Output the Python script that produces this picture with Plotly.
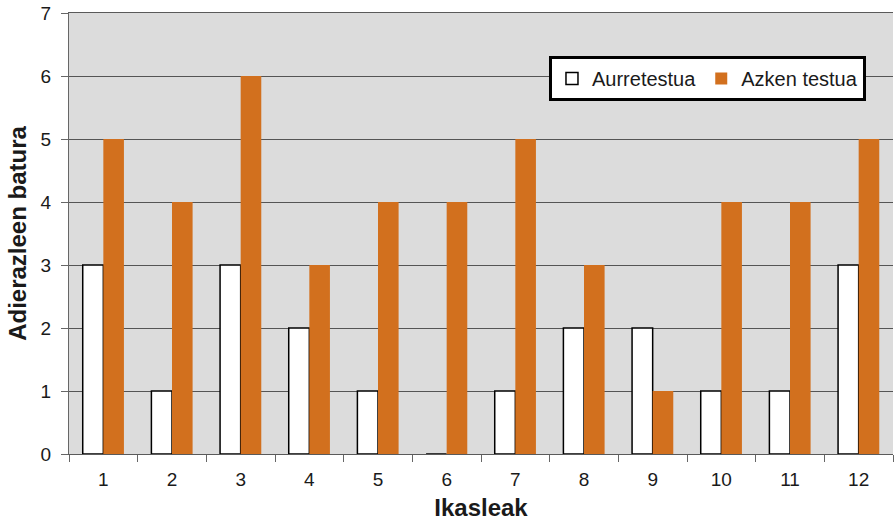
import plotly.graph_objects as go

categories = ["1", "2", "3", "4", "5", "6", "7", "8", "9", "10", "11", "12"]
aurretestua = [3, 1, 3, 2, 1, 0, 1, 2, 2, 1, 1, 3]
azken_testua = [5, 4, 6, 3, 4, 4, 5, 3, 1, 4, 4, 5]
y_ticks = [0, 1, 2, 3, 4, 5, 6, 7]

FONT = "Liberation Sans, Arial, sans-serif"
TXT = "#1a1a1a"

fig = go.Figure()
fig.add_trace(go.Bar(
    x=categories, y=aurretestua, name="Aurretestua",
    marker=dict(color="white", line=dict(color="black", width=1.5)),
))
fig.add_trace(go.Bar(
    x=categories, y=azken_testua, name="Azken testua",
    marker=dict(color="#D2701E", line=dict(width=0)),
))

fig.update_layout(
    width=895, height=522,
    margin=dict(l=69, r=2, t=13, b=68),
    paper_bgcolor="white",
    plot_bgcolor="#DCDCDC",
    barmode="group",
    bargap=0.4,
    bargroupgap=0,
    font=dict(family=FONT, size=19, color=TXT),
    legend=dict(
        orientation="h",
        x=0.5825, y=0.9025, xanchor="left", yanchor="top",
        bgcolor="white", bordercolor="black", borderwidth=3,
        font=dict(size=20, color=TXT),
        itemwidth=30, traceorder="normal",
    ),
    showlegend=True,
)

fig.update_xaxes(
    type="category",
    tickson="boundaries",
    ticks="outside", ticklen=7, tickcolor="#666666",
    showline=True, linecolor="#5a5a5a", linewidth=1, mirror=True,
    showgrid=False, automargin=False,
    tickfont=dict(size=19, color=TXT),
    ticklabelstandoff=8,
    title=dict(text="<b>Ikasleak</b>", font=dict(size=24, family=FONT, color=TXT), standoff=10),
)
fig.update_yaxes(
    range=[0, 7],
    tickvals=y_ticks,
    ticks="outside", ticklen=7, tickcolor="#666666",
    showline=True, linecolor="#666666", linewidth=1,
    showgrid=True, gridcolor="#555555", gridwidth=1,
    zeroline=False, automargin=False,
    tickfont=dict(size=19, color=TXT),
    ticklabelstandoff=6,
    title=dict(text="<b>Adierazleen batura</b>", font=dict(size=24, family=FONT, color=TXT), standoff=7),
)

fig.write_html(
    "out.html",
    config={"displayModeBar": False},
    post_script="document.body.style.margin='0';",
)
